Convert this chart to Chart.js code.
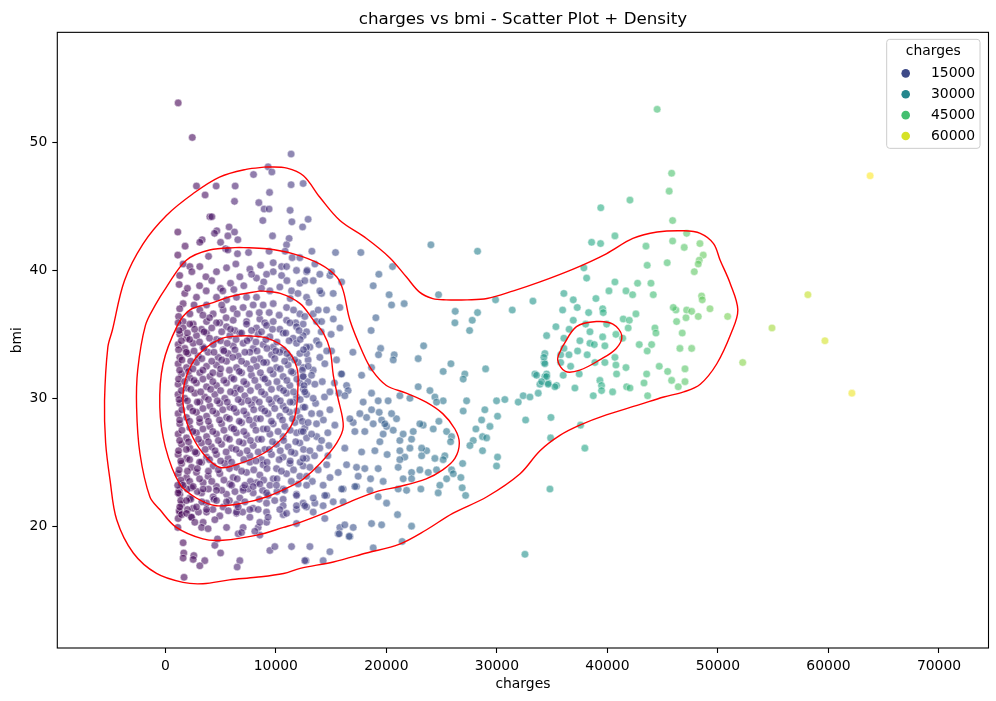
<!DOCTYPE html>
<html><head><meta charset="utf-8">
<script src="https://cdn.jsdelivr.net/npm/chart.js@4.4.0/dist/chart.umd.min.js"></script>
<style>html,body{margin:0;padding:0;background:#fff;}canvas{display:block;}</style>
</head><body>
<canvas id="c" width="996" height="701"></canvas>
<script>
const xTicks=[0,10000,20000,30000,40000,50000,60000,70000];
const yTicks=[20,30,40,50];
const legendValues=[15000,30000,45000,60000];

const sparseLowPoints=[[1163,53.1],[2438,50.4],[11381,49.1],[9300,48.1],[9640,47.7],[7980,47.5],[2820,46.6],[4600,46.6],[6320,46.6],[11380,46.7],[12470,46.8],[9430,46.1],[3600,45.9],[6260,45.4],[8460,45.3],[8940,44.8],[9390,44.8],[11290,44.7],[4030,44.2],[4210,44.2],[8820,43.9],[11450,43.8],[12920,44.0],[12420,43.4],[1130,43.0],[5770,43.4],[4660,43.1],[4450,42.9],[6260,43.0],[5660,42.7],[9700,42.7],[11200,42.5],[3330,42.4],[3120,42.2],[6560,42.4],[1790,41.9],[5000,42.2],[10970,42.0],[1130,41.2],[3910,41.1],[5450,41.7],[5660,41.6],[6530,41.3],[7530,41.4],[9390,41.5],[10840,41.5],[13260,41.5],[15400,41.4],[11480,41.0],[12170,41.0]];

const upperClusterPoints=[[1610,40.5],[2220,40.3],[3120,40.3],[3670,39.5],[4630,39.9],[5540,40.2],[6380,40.5],[7650,40.1],[8620,40.4],[9760,40.6],[10520,40.3],[9760,39.9],[10520,39.6],[6740,39.5],[8250,39.4],[9160,39.7],[10970,40.3],[11870,40.0],[12780,39.9],[13980,39.7],[14890,39.6],[15950,39.1],[15190,38.2],[14140,38.2],[13380,39.2],[12170,39.0],[11420,38.4],[10360,38.7],[9460,38.4],[8250,37.9],[7350,37.9],[6440,37.9],[5540,37.7],[4630,37.9],[3730,37.3],[2820,37.9],[1760,38.2],[1610,37.4],[2220,36.6],[3120,36.9],[4330,36.6],[5230,36.9],[6140,37.0],[7040,37.1],[7950,37.3],[8850,37.3],[9760,37.4],[10970,37.1],[12170,36.6],[13380,36.6],[14590,36.9],[15790,37.1],[1610,36.0],[2520,35.8],[3730,36.0],[4930,35.9],[6140,36.1],[7350,36.0],[8550,36.2],[9760,36.0],[10970,36.1],[12470,35.8],[13680,36.0],
[12830,40.0],[13530,40.5],[15040,39.9],[12620,39.2],[13980,38.4],[12780,37.9],[13830,36.9],[14140,36.0],[12620,36.4],[13680,34.5],[13080,34.0],[15040,33.7],[13980,33.2],[12920,33.0],[14430,32.7],[13380,32.2],[12470,32.4],[12780,33.5],
[1300,39.6],[2400,39.9],[3100,38.8],[4200,39.2],[5000,38.6],[5900,39.0],[7100,38.8],[7800,39.7],[8900,39.1],[11000,39.2],[12000,38.2],[1250,38.9],[2000,38.6],[3700,38.4],[5200,38.4],[6200,38.5],[8700,38.6],[11300,37.8],[13000,37.5],[1300,37.0],[2600,37.3],[4000,36.3],[5100,37.3],[6500,36.6],[7600,36.6],[8500,36.7],[9400,36.7],[10300,36.5],[11600,36.9],[1200,36.4],[3400,36.5],[5500,36.3],[9000,35.9],[11800,35.9],
[13600,29.6],[14400,30.1],[14200,31.3],[14700,27.3],[14300,28.3],[13700,27.0],[14800,26.3],[13500,25.5],[14600,24.8],[13300,23.5],[14900,23.8],[15300,31.2],[15700,30.4],[13900,34.2],[14600,33.7],[14100,35.2],[15000,35.0],[15800,35.5],[15200,36.2]];

const denseClusterPoints=[
[1160,35.9],[1610,35.5],[2220,35.8],[3280,35.4],[4630,35.9],[5540,35.6],[6290,35.3],[7350,35.8],[8250,35.5],[9160,35.7],[10360,35.4],[11270,35.9],[11870,35.6],[12780,35.2],
[1310,35.0],[1920,34.7],[2820,34.9],[3730,35.1],[4630,34.6],[5840,34.9],[6740,35.1],[7650,34.7],[8400,35.0],[9460,34.8],[10660,35.1],[11570,34.7],[12470,34.9],
[1160,34.2],[1760,33.9],[2520,34.3],[3420,34.0],[4330,34.2],[5230,33.8],[6140,34.1],[7040,34.3],[7950,33.9],[8850,34.2],[9760,34.0],[10660,33.8],[11870,34.3],[12780,34.0],
[1310,33.2],[2060,33.5],[2970,33.3],[3870,33.6],[4780,33.2],[5680,33.5],[6590,33.3],[7650,33.6],[8550,33.1],[9610,33.4],[10360,33.6],[11270,33.2],[12170,33.5],
[1160,32.7],[1920,32.4],[2820,32.8],[3730,32.5],[4630,32.6],[5540,32.9],[6440,32.4],[7350,32.7],[8250,32.5],[9160,32.8],[10060,32.4],[11110,32.6],[12020,32.8],[12920,32.5],
[1470,31.9],[2220,31.6],[3120,32.0],[4030,31.7],[4930,31.9],[5990,31.6],[6900,32.0],[7800,31.8],[8850,31.6],[9760,31.9],[10660,31.7],[11570,32.0],[12470,31.7],
[1160,31.1],[1920,30.8],[2820,31.2],[3730,30.9],[4630,31.0],[5540,31.2],[6440,30.8],[7350,31.1],[8400,30.9],[9300,31.2],[10360,30.8],[11270,31.0],[12170,31.2],
[1150,30.3],[1760,30.0],[2670,30.4],[3570,30.1],[4480,30.3],[5380,30.0],[6290,30.4],[7190,30.2],[8100,29.9],[9000,30.3],[10060,30.0],[10970,30.4],[11870,30.1],[12780,30.3],
[1310,29.6],[2220,29.3],[3120,29.7],[4030,29.4],[4930,29.6],[5840,29.3],[6900,29.7],[7800,29.5],[8710,29.2],[9610,29.6],[10660,29.4],[11570,29.7],[12470,29.3],
[1160,28.8],[1920,28.5],[2820,28.9],[3730,28.6],[4630,28.8],[5540,28.5],[6440,28.9],[7350,28.7],[8250,28.4],[9300,28.8],[10360,28.6],[11270,28.9],[12170,28.5],
[1310,28.0],[2220,27.7],[3120,28.1],[4030,27.8],[5090,28.0],[5990,27.7],[6900,28.1],[7950,27.9],[8850,27.6],[9760,28.0],[10810,27.8],[11720,28.1],[12620,27.7],
[1160,27.2],[1920,26.9],[2820,27.3],[3730,27.0],[4630,27.2],[5540,26.9],[6440,27.3],[7350,27.1],[8400,26.8],[9460,27.2],[10660,27.0],[11870,27.3],[12780,26.9],
[1470,26.4],[2220,26.1],[3280,26.5],[4180,26.2],[5090,26.4],[5990,26.1],[7040,26.5],[7950,26.3],[9000,26.0],[10060,26.4],[11110,26.2],[12170,26.5],
[1160,25.6],[1920,25.3],[2820,25.7],[3730,25.4],[4630,25.6],[5680,25.3],[6740,25.7],[7650,25.5],[8710,25.2],[9610,25.6],[10660,25.4],[11720,25.7],[12780,25.3],
[1470,24.9],[2370,24.6],[3280,25.0],[4330,24.7],[5380,24.9],[6440,24.6],[7650,25.0],[8850,24.8],[10060,24.5],[11270,24.9],[12470,24.7],
[1160,24.1],[1920,23.8],[2820,24.2],[3870,23.9],[4930,24.1],[6140,23.8],[7350,24.2],[8550,24.0],[9760,23.7],[10970,24.1],[12170,23.9],
[1470,23.3],[2370,23.0],[3420,23.4],[4630,23.1],[5840,23.3],[7040,23.0],[8250,23.4],[9460,23.2],[10660,22.9],[12020,23.3],
[1310,22.5],[2220,22.2],[3280,22.6],[4330,22.3],[5540,22.5],[6740,22.2],[7950,22.6],[9300,22.4],[10660,22.1],[11870,22.5],
[1470,21.7],[2520,21.4],[3730,21.8],[5230,21.5],[6440,21.7],[7950,21.4],[9160,21.8],[10660,21.6],[11870,21.3],
[1310,21.0],[2370,20.7],[3730,21.1],[4930,20.8],[6440,21.0],[7650,20.7],[9160,21.1],[10660,20.9]];

const denseFillPoints=[
[1250,35.3],[2000,35.1],[2650,35.4],[3500,35.2],[4200,35.5],[5100,35.2],[5900,35.4],[6900,35.1],[7800,35.3],[8700,35.2],[9700,35.4],[10900,35.1],[12100,35.3],
[1450,34.5],[2200,34.6],[3100,34.4],[4000,34.7],[5000,34.5],[5600,34.3],[6400,34.6],[7400,34.5],[8200,34.4],[9100,34.6],[10100,34.4],[11200,34.5],[12200,34.6],
[1200,33.8],[1900,33.6],[2600,33.7],[3500,33.9],[4400,33.6],[5300,33.7],[6300,33.8],[7200,33.6],[8300,33.7],[9200,33.9],[10000,33.7],[11000,33.5],[12500,33.8],
[1500,33.0],[2300,32.9],[3300,33.1],[4200,32.9],[5100,33.0],[6100,33.2],[6900,32.9],[8000,33.0],[8900,32.8],[9900,33.1],[10800,32.9],[11700,33.0],
[1300,32.2],[2100,32.1],[2500,32.3],[3400,32.2],[4300,32.0],[5000,32.3],[5800,32.2],[6700,32.1],[7700,32.3],[8600,32.0],[9500,32.2],[10400,32.3],[11400,32.1],[12400,32.2],
[1200,31.5],[1750,31.3],[2600,31.4],[3400,31.5],[4300,31.3],[5300,31.4],[6200,31.5],[7100,31.3],[8100,31.4],[9000,31.5],[10100,31.3],[11000,31.4],[11900,31.5],[12900,31.3],
[1450,30.6],[2300,30.7],[3200,30.5],[4100,30.7],[5000,30.6],[5900,30.5],[6800,30.7],[7700,30.6],[8700,30.5],[9600,30.7],[10700,30.6],[11600,30.5],[12500,30.7],
[1250,29.9],[2000,29.8],[2900,29.7],[3900,29.9],[4700,29.8],[5600,29.7],[6600,29.9],[7500,29.8],[8500,29.7],[9400,29.9],[10400,29.8],[11300,29.7],[12200,29.9],
[1500,29.1],[2500,29.0],[3400,29.2],[4300,29.0],[5200,29.1],[6200,29.2],[7100,29.0],[8000,29.1],[9000,29.0],[9900,29.2],[10900,29.1],[11900,29.0],
[1300,28.3],[2200,28.2],[3100,28.4],[3900,28.2],[4900,28.3],[5800,28.4],[6700,28.2],[7600,28.3],[8600,28.4],[9600,28.2],[10600,28.3],[11500,28.4],[12400,28.2],
[1500,27.5],[2500,27.4],[3400,27.6],[4300,27.4],[5300,27.5],[6200,27.6],[7100,27.4],[8200,27.5],[9200,27.6],[10200,27.4],[11300,27.5],[12300,27.4],
[1300,26.7],[2100,26.6],[3000,26.8],[3900,26.6],[4800,26.7],[5800,26.8],[6700,26.6],[7700,26.7],[8700,26.8],[9700,26.6],[10700,26.7],[11800,26.6],
[1200,25.9],[1900,26.0],[2700,25.8],[3600,26.0],[4500,25.9],[5500,25.8],[6400,26.0],[7400,25.9],[8400,25.8],[9400,26.0],[10400,25.9],[11400,25.8],[12500,26.0],
[1400,25.1],[2200,25.2],[3100,25.0],[4000,25.2],[5000,25.1],[6000,25.0],[7100,25.2],[8200,25.1],[9200,25.0],[10300,25.2],[11300,25.1],[12200,25.0],
[1250,24.4],[2000,24.3],[2900,24.5],[3900,24.3],[4800,24.4],[5800,24.5],[6900,24.3],[8000,24.4],[9200,24.5],[10500,24.3],[11600,24.4],
[1400,23.6],[2200,23.5],[3100,23.7],[4200,23.5],[5300,23.6],[6500,23.7],[7700,23.5],[8900,23.6],[10100,23.7],[11400,23.5],
[1250,22.8],[2000,22.9],[2900,22.7],[3900,22.9],[5100,22.8],[6300,22.7],[7500,22.9],[8800,22.8],[10100,22.7],
[1400,22.0],[2300,22.1],[3300,21.9],[4400,22.1],[5800,22.0],[7200,21.9],[8500,22.1],[9900,22.0],
[1250,21.2],[2000,21.3],[3000,21.1],[4300,21.3],[5700,21.2],[7000,21.1],[8400,21.3]];

const bottomLowPoints=[[1694,16.0],[1610,18.7],[1670,17.9],[1610,17.5],[2580,17.7],[2520,17.4],[3570,17.3],[3120,16.9],[4480,18.5],[5000,17.9],[6740,17.3],[6500,16.8],[4720,19.0],[6590,19.4],[7040,19.9],[8400,19.9],[8550,19.3],[9460,18.1],[9910,18.4],[11420,18.4],[12720,17.3],[15640,19.4],[16700,19.2],[11870,20.2],[1130,19.9],[1160,20.6],[1470,20.9],[1920,21.0],[2370,20.7],[2670,20.3],[3420,20.3],[3280,19.9],[3870,19.8],[4480,20.5],[5540,19.9],[6900,19.5],[8100,19.6],[9160,20.3],[8550,20.3],[9300,20.7],[10360,21.3],[10970,21.0],[11870,21.6],[12470,21.8],[14590,22.4],[16090,21.9],[17300,23.1],[16090,22.9],[12780,23.2],[11870,22.4],[10810,22.8],[9160,22.6],[7950,23.1],[7040,22.8],[6440,21.1],[7650,21.3],[6590,21.5],[5540,21.9],[4630,22.0],[3730,21.3],[2820,21.5],[1920,22.0],[1310,21.5],[1160,22.6],[1610,23.2],[2520,23.1],[3420,22.9],[4630,22.8],[5990,23.2],[7190,23.2],[8550,23.3],[10060,23.2],[15790,19.9],[1121.9,23.2]];

const midChargePoints=[[17690,41.4],[24030,42.0],[28250,41.5],[19320,39.7],[20560,40.3],[18810,38.8],[20250,38.1],[20470,37.3],[21610,37.4],[24720,38.1],[29880,37.7],[31390,36.9],[33260,37.6],[26230,36.8],[26200,35.9],[28250,36.7],[27770,36.1],[27530,35.3],[19050,36.3],[18620,35.3],[23370,34.1],[22880,33.1],[19480,33.9],[19290,33.4],[20710,33.4],[20620,33.0],[16970,33.6],[15490,33.0],[18660,32.4],[17760,31.8],[15910,31.9],[25840,32.7],[25140,32.1],[27100,31.9],[28980,32.3],[34340,33.5],[34280,32.8],[33440,31.9],[34500,31.9],
[15950,31.9],[26950,31.5],[33590,31.8],[34340,31.7],[33890,31.1],[34640,31.2],[35400,31.0],[22880,30.9],[23940,30.6],[24390,30.1],[25140,29.8],[24540,29.7],[21220,30.2],[22130,30.0],[20160,29.8],[19260,29.8],[18660,30.4],[17900,29.7],[16400,31.0],[16540,30.6],[14890,30.5],[16240,30.2],[27260,29.8],[26950,29.0],[28910,29.1],[29970,29.8],[30720,29.9],[31930,29.7],[32380,30.2],[32990,30.1],[33740,30.4],[30060,28.6],[28620,28.3],[29370,27.8],[28100,27.6],[28700,27.0],[29070,26.9],[27860,26.7],[27560,26.3],[28700,25.9],[30060,25.4],[29970,24.7],[26900,24.9],[32600,28.3],[34890,28.5],[34860,26.9],[34800,22.9],[32540,17.8],[25900,24.4],[26050,24.1],[26740,23.8],[25450,23.7],[24840,23.2],[26860,23.0],[27170,22.4],[24690,22.6],[24240,27.6],[23330,27.9],[24750,28.2],[25450,27.4],[25900,27.0],[25810,26.6],[25290,25.5],[25140,25.2],[24390,25.3],[23640,25.9],[23190,26.1],[23190,25.5],[24540,24.4],[23790,24.2],[23030,24.4],[22280,24.2],[23120,22.9],[21830,22.8],[21070,22.9],[22280,23.7],[21520,23.7],[21070,24.6],[21670,25.4],[21220,25.2],[22130,26.1],[21220,25.9],[22280,26.8],[21220,26.7],[22430,27.4],[23030,28.0],[21520,27.2],[20620,27.5],[20020,27.8],[19710,27.2],[19570,28.3],[20920,28.4],[20470,28.8],[19860,28.0],[19350,28.9],[18660,29.1],[18210,28.5],[18810,28.0],[18050,27.4],[17000,28.1],[17150,27.4],[17600,28.8],[16700,28.4],[19410,26.6],[20070,25.6],[18960,25.9],[17760,25.8],[16240,26.1],[17300,24.6],[18050,24.5],[17450,23.9],[18570,23.7],[19710,23.5],[19260,24.5],[16400,24.8],[15640,24.2],[17150,23.1],[15950,22.9],[18510,22.8],[19260,22.3],[20020,21.8],[15190,21.9],[14430,22.4],[14280,21.6],[13530,21.8],[12780,21.5],[13380,21.1],[14430,20.6],[21010,20.9],[16240,20.1],[17000,19.9],[18660,20.2],[19570,20.1],[22280,20.0],[15730,19.4],[16630,19.2],[13080,18.4],[14890,18.0],[18810,18.3],[21430,18.8],[12620,17.3],[14280,17.3],
[12470,31.7],[13230,31.8],[12550,31.0],[13530,31.1],[12620,30.5],[13380,30.0],[12620,29.3],[13230,28.8],[13980,28.8],[12920,28.1],[13680,28.0],[12470,27.4],[13230,27.2],[14140,26.7],[13980,26.1],[13080,25.9],[12470,25.3],[13080,24.6],[13830,24.4],[12780,23.9],[14280,23.2],[13380,22.2],[12620,21.6],[14890,29.1],[15340,27.9],[14710,25.5]];

const highChargePoints=[[40680,42.7],[38570,42.2],[39380,42.1],[45900,43.9],[47170,42.9],[43490,41.9],[45900,42.3],[46950,41.8],[48370,42.1],[48670,41.2],[48310,40.8],[48220,40.5],[47860,39.9],[45410,40.6],[43600,40.4],[37870,40.2],[38120,39.4],[40680,39.1],[40140,38.4],[42730,39.0],[43940,39.0],[41680,38.4],[42280,38.1],[44150,38.1],[36060,38.2],[36910,37.7],[38960,37.8],[39570,37.0],[39620,36.7],[38300,36.7],[37270,37.1],[35950,36.9],[36910,36.1],[36540,35.4],[38030,35.8],[35340,35.6],[34500,34.9],[36060,34.7],[38420,35.2],[39570,34.8],[40770,35.0],[39930,35.8],[41430,36.2],[41980,36.1],[42580,36.6],[41880,35.5],[41380,34.7],[37510,34.5],[38420,34.3],[38810,34.2],[39770,34.1],[36060,33.9],[36520,33.4],[37300,33.7],[38170,33.4],[35770,33.4],[34250,33.2],[34340,32.7],[35770,32.8],[36670,32.5],[38870,32.8],[39770,32.8],[40680,33.2],[40770,32.6],[41680,32.4],[40830,31.9],[37450,31.9],[36000,31.8],[39320,31.4],[39470,31.0],[39470,30.6],[40470,30.5],[41740,30.9],[42040,30.8],[38720,30.2],[37060,30.8],[35250,30.9],[34500,31.7],[34050,31.3],[34640,31.1],[43550,31.9],[43310,31.2],[43640,30.2],[42880,34.2],[43600,33.7],[44000,34.2],[44300,35.5],[44390,35.1],[44690,32.5],[45450,32.1],[45810,31.4],[46410,30.9],[47020,31.3],[47020,32.3],[46560,33.9],[47620,33.9],[46770,35.1],[46260,36.0],[47110,36.3],[46200,36.9],[47170,36.9],[47620,36.8],[48220,36.4],[45960,37.1],[48520,38.0],[48580,37.7],[49280,37.0],[50880,36.4],[52240,32.8],[37570,27.9],[37960,26.1],[44501,52.6],[45810,47.6],[45590,46.2],[42040,45.5],[39400,44.9],[63770,47.4],[58140,38.1],[54890,35.5],[59680,34.5],[62120,30.4]];

const contourLevel1=[[9200,48.1],[11000,48.0],[12500,47.4],[14000,45.7],[15800,43.9],[18200,42.5],[20300,41.0],[21800,39.5],[23000,38.3],[24200,37.8],[25400,37.7],[27300,37.7],[29100,37.8],[31500,38.4],[33900,39.1],[36900,40.1],[39900,41.3],[42300,42.5],[44500,43.0],[46900,43.1],[48400,42.9],[49600,42.1],[50200,40.8],[51100,39.0],[51800,36.9],[51200,35.1],[49900,32.7],[48400,31.1],[46900,30.5],[45100,30.1],[42900,29.5],[39900,28.7],[37500,27.9],[35700,27.1],[33900,25.9],[32100,24.1],[29100,22.3],[26000,21.0],[23600,19.7],[21200,18.6],[18200,17.9],[15200,17.2],[12200,16.7],[10700,16.3],[8200,16.0],[5800,15.8],[3400,15.5],[1600,15.6],[-800,16.3],[-2900,17.9],[-4400,20.5],[-5000,23.6],[-5400,26.5],[-5500,29.8],[-5200,34.0],[-4800,35.3],[-3700,39.2],[-2000,42.1],[100,44.3],[2500,46.0],[4900,47.3],[7300,47.9],[9200,48.1]];
const contourLevel2=[[6700,41.8],[9200,41.7],[11600,41.3],[14000,40.5],[15500,39.5],[16100,38.4],[16700,36.1],[17900,33.5],[18700,32.2],[20000,31.0],[21800,30.4],[23600,29.7],[25100,28.8],[26200,27.6],[26600,26.5],[26200,25.3],[25100,24.4],[23600,23.7],[21200,23.1],[19100,22.7],[16700,21.9],[14600,21.1],[12200,20.3],[10700,19.9],[8300,19.3],[5200,18.9],[3400,19.0],[1000,19.9],[-500,21.3],[-1400,22.3],[-2300,25.7],[-2600,29.3],[-2500,32.2],[-1800,35.7],[-900,37.3],[100,38.7],[1900,40.8],[4000,41.6],[6700,41.8]];
const contourLevel3=[[8600,38.4],[10400,38.2],[12200,37.4],[13400,36.1],[14300,35.1],[14900,33.8],[15200,31.8],[15600,30.1],[16100,27.8],[15500,26.5],[14000,24.9],[12500,23.7],[11300,23.1],[9200,22.3],[7000,21.8],[4600,21.6],[2800,22.2],[1300,23.3],[0,26.2],[-500,29.3],[-200,32.7],[1100,35.7],[2200,36.9],[4000,37.4],[6100,38.0],[8600,38.4]];
const contourLevel4a=[[7200,34.9],[9200,34.7],[11000,33.8],[11900,32.4],[12000,30.9],[11700,28.5],[10700,27.0],[8900,25.7],[6400,24.8],[4900,24.6],[3400,25.7],[2200,27.5],[1600,29.6],[1900,31.7],[3100,33.5],[5200,34.7],[7200,34.9]];
const contourLevel4b=[[35900,34.0],[37200,35.6],[39000,36.0],[40500,35.8],[41300,34.9],[40800,33.9],[39300,33.0],[37500,32.2],[36200,32.1],[35500,33.0],[35900,34.0]];

const FONT='"DejaVu Sans", sans-serif';
const VIR=[[68,1,84],[72,36,117],[65,68,135],[53,95,141],[42,120,142],[33,145,140],[34,168,132],[68,191,112],[122,209,81],[189,223,38],[253,231,37]];
function viridis(t){t=Math.max(0,Math.min(1,t));const s=t*10;const i=Math.min(9,Math.floor(s));const f=s-i;const a=VIR[i],b=VIR[i+1];return [0,1,2].map(k=>Math.round(a[k]+(b[k]-a[k])*f));}

const allPoints=[].concat(sparseLowPoints,upperClusterPoints,denseClusterPoints,denseFillPoints,bottomLowPoints,midChargePoints,highChargePoints);
const cMin=Math.min(...allPoints.map(p=>p[0])), cMax=Math.max(...allPoints.map(p=>p[0]));
const norm=v=>(v-cMin)/(cMax-cMin);
const rgba=(c,a)=>`rgba(${c[0]},${c[1]},${c[2]},${a})`;

const scatterData=allPoints.map(p=>({x:p[0],y:p[1]}));
const scatterColors=allPoints.map(p=>rgba(viridis(norm(p[0])),0.6));

function contourDs(arr){return {type:'scatter',data:arr.map(p=>({x:p[0],y:p[1]})),showLine:true,pointRadius:0,borderColor:'#ff0000',borderWidth:1.4,tension:0.35,fill:false,order:0};}

const frame={id:'frame',afterDatasetsDraw(chart){const {ctx,chartArea:a}=chart;ctx.save();ctx.strokeStyle='#000';ctx.lineWidth=1.1;ctx.strokeRect(a.left,a.top,a.right-a.left,a.bottom-a.top);ctx.restore();}};
const legendBox={id:'legendBox',afterDraw(chart){const {ctx,chartArea:a}=chart;ctx.save();
 const w=93.3,h=109,r=3;const L=a.right-8.5-w,T=a.top+7;
 ctx.beginPath();ctx.moveTo(L+r,T);ctx.lineTo(L+w-r,T);ctx.quadraticCurveTo(L+w,T,L+w,T+r);ctx.lineTo(L+w,T+h-r);ctx.quadraticCurveTo(L+w,T+h,L+w-r,T+h);ctx.lineTo(L+r,T+h);ctx.quadraticCurveTo(L,T+h,L,T+h-r);ctx.lineTo(L,T+r);ctx.quadraticCurveTo(L,T,L+r,T);ctx.closePath();
 ctx.fillStyle='rgba(255,255,255,0.8)';ctx.fill();ctx.strokeStyle='#cccccc';ctx.lineWidth=1;ctx.stroke();
 ctx.fillStyle='#000';ctx.font='13.9px '+FONT;ctx.textBaseline='middle';ctx.textAlign='center';
 ctx.fillText('charges',L+w/2,T+12.5);
 ctx.textAlign='left';
 legendValues.forEach((v,i)=>{const y=T+34+i*20.9;ctx.beginPath();ctx.arc(L+19,y,4.3,0,Math.PI*2);ctx.fillStyle=rgba(viridis(norm(v)),1);ctx.fill();ctx.fillStyle='#000';ctx.fillText(String(v),L+44.3,y);});
 ctx.restore();}};

const axisFont={family:FONT,size:13.9};
new Chart(document.getElementById('c'),{
 type:'scatter',
 data:{datasets:[
  {type:'scatter',data:scatterData,backgroundColor:scatterColors,borderColor:'rgba(255,255,255,0.6)',borderWidth:0.8,pointRadius:3.8,order:1},
  contourDs(contourLevel1),contourDs(contourLevel2),contourDs(contourLevel3),contourDs(contourLevel4a),contourDs(contourLevel4b)
 ]},
 options:{
  responsive:false,animation:false,events:[],
  layout:{padding:{left:0,right:7.5,top:0,bottom:0}},
  plugins:{legend:{display:false},tooltip:{enabled:false},
   title:{display:true,text:'charges vs bmi - Scatter Plot + Density',fullSize:false,color:'#000',font:{family:FONT,size:16.7,weight:'normal'},padding:{top:9.2,bottom:3.1}}},
  scales:{
   x:{type:'linear',min:-9774,max:74480,
    afterBuildTicks:s=>{s.ticks=xTicks.map(v=>({value:v}));},
    afterFit:s=>{s.height=53;},
    ticks:{autoSkip:false,maxRotation:0,color:'#000',font:axisFont,padding:5,callback:v=>String(v)},
    grid:{display:true,drawOnChartArea:false,drawTicks:true,tickLength:5,tickColor:'#000',tickWidth:1.1,color:'#000'},
    border:{display:false},
    title:{display:true,text:'charges',color:'#000',font:axisFont,padding:{top:0,bottom:8.7}}},
   y:{type:'linear',min:10.47,max:58.62,
    afterBuildTicks:s=>{s.ticks=yTicks.map(v=>({value:v}));},
    afterFit:s=>{s.width=57.3;},
    ticks:{autoSkip:false,color:'#000',font:axisFont,padding:5,callback:v=>String(v)},
    grid:{display:true,drawOnChartArea:false,drawTicks:true,tickLength:5,tickColor:'#000',tickWidth:1.1,color:'#000'},
    border:{display:false},
    title:{display:true,text:'bmi',color:'#000',font:axisFont,padding:{top:8.7,bottom:0}}}
  }
 },
 plugins:[frame,legendBox]
});
</script>
</body></html>
